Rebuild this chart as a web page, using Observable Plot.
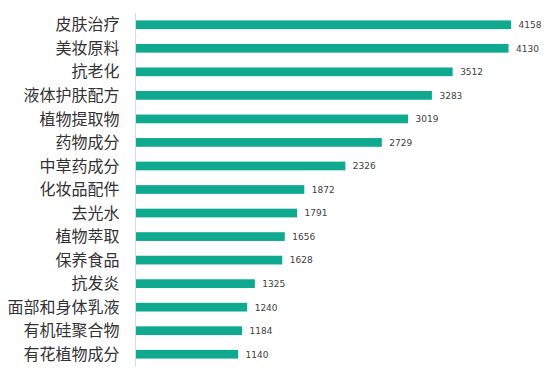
<!DOCTYPE html>
<html>
<head>
<meta charset="utf-8">
<script src="https://cdn.jsdelivr.net/npm/d3@7"></script>
<script src="https://cdn.jsdelivr.net/npm/@observablehq/plot@0.6"></script>
<style>
  html, body { margin: 0; padding: 0; background: #fff; }
  #chart svg { display: block; }
</style>
</head>
<body>
<div id="chart"></div>
<script>
const categories = ["皮肤治疗", "美妆原料", "抗老化", "液体护肤配方", "植物提取物", "药物成分", "中草药成分", "化妆品配件", "去光水", "植物萃取", "保养食品", "抗发炎", "面部和身体乳液", "有机硅聚合物", "有花植物成分"];
const values = [4158, 4130, 3512, 3283, 3019, 2729, 2326, 1872, 1791, 1656, 1628, 1325, 1240, 1184, 1140];

const data = categories.map((c, i) => ({category: c, value: values[i]}));

const chart = Plot.plot({
  width: 556,
  height: 379,
  marginLeft: 135,
  marginRight: 14,
  marginTop: 13,
  marginBottom: 13,
  style: {fontFamily: "'Noto Sans CJK SC', sans-serif", background: "#fff"},
  x: {domain: [0, 4500], axis: null},
  y: {domain: categories, paddingInner: 0.63, paddingOuter: 0.315, round: false, label: null, axis: null},
  marks: [
    Plot.barX(data, {x: "value", y: "category", fill: "#0ea98f"}),
    Plot.ruleX([0], {stroke: "#d9d9d9", strokeWidth: 1}),
    Plot.text(data, {x: "value", y: "category", text: d => String(d.value), textAnchor: "start", dx: 7, fontSize: 9, fill: "#404040", fontFamily: "'DejaVu Sans', sans-serif", style: "letter-spacing:0.6px"}),
    Plot.axisY({tickSize: 0, tickPadding: 16, fontSize: 16, color: "#333", label: null})
  ]
});
document.getElementById("chart").appendChild(chart);
</script>
</body>
</html>
